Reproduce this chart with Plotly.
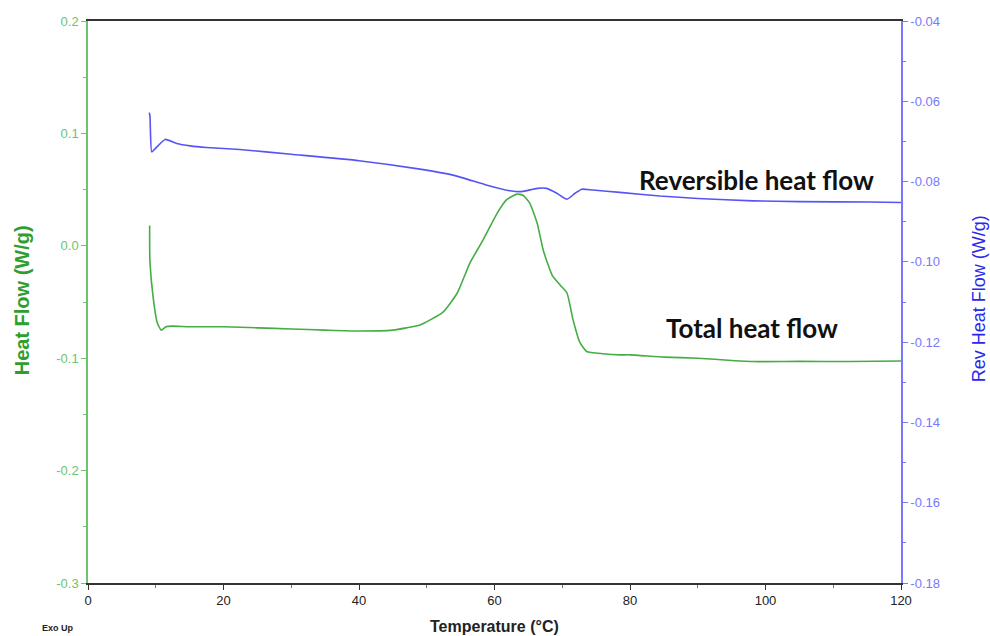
import plotly.graph_objects as go

# Total heat flow (left axis, W/g) vs temperature (°C)
total_T = [9.1, 9.1, 9.15, 9.6, 10.2, 10.8, 11.5, 12.5, 15, 20, 25, 30, 35, 40, 45, 47, 49,
           52.4, 54.5, 56.4, 58.3, 60.4, 61.8, 63.3, 64.2, 65.2, 66.3, 67.2, 68.5, 69.7,
           70.7, 71.6, 72.6, 73.6, 76.0, 78.5, 80, 85, 90, 95, 98.2, 105, 112.5, 120]
total_hf = [0.018, 0.0, -0.015, -0.045, -0.068, -0.075, -0.072, -0.0715, -0.072, -0.072,
            -0.073, -0.074, -0.075, -0.0758, -0.075, -0.073, -0.0705,
            -0.059, -0.042, -0.015, 0.005, 0.029, 0.041, 0.046, 0.045, 0.038, 0.020,
            -0.004, -0.026, -0.035, -0.042, -0.066, -0.086, -0.094, -0.096, -0.097,
            -0.097, -0.099, -0.100, -0.102, -0.103, -0.1028, -0.103, -0.1025]

# Reversible heat flow (right axis, W/g)
rev_T = [9.05, 9.15, 9.4, 9.8, 11.4, 13.1, 15.1, 17.5, 22.4, 30, 40, 49, 53.9, 58.9,
         62.3, 64.0, 66.3, 67.7, 69.2, 70.7, 71.9, 72.9, 74.5, 78.5, 84.4, 90, 98.2,
         105, 115.4, 120]
rev_hf = [-0.0628, -0.0638, -0.0726, -0.0720, -0.0695, -0.0705, -0.0711, -0.0715, -0.0720,
          -0.0732, -0.0748, -0.0769, -0.0784, -0.0809, -0.0823, -0.0825, -0.0817, -0.0817,
          -0.0829, -0.0844, -0.0829, -0.0819, -0.0821, -0.0827, -0.0836, -0.0842, -0.0848,
          -0.0850, -0.0851, -0.0852]

x_ticks = [0, 20, 40, 60, 80, 100, 120]
left_ticks = [-0.3, -0.2, -0.1, 0.0, 0.1, 0.2]
left_labels = ["-0.3", "-0.2", "-0.1", "0.0", "0.1", "0.2"]
right_ticks = [-0.18, -0.16, -0.14, -0.12, -0.10, -0.08, -0.06, -0.04]
right_labels = ["-0.18", "-0.16", "-0.14", "-0.12", "-0.10", "-0.08", "-0.06", "-0.04"]

GREEN = "#45AD45"
GREEN_AX = "#6CC46C"
BLUE = "#5555F5"
BLUE_AX = "#7777FF"
FONT = "Liberation Sans, Arial, sans-serif"
LABEL_FONT = "Lato, Open Sans, sans-serif"

fig = go.Figure()
fig.add_trace(go.Scatter(x=total_T, y=total_hf, mode="lines", yaxis="y",
                         line=dict(color=GREEN, width=1.6, shape="spline", smoothing=0.5),
                         showlegend=False))
fig.add_trace(go.Scatter(x=rev_T, y=rev_hf, mode="lines", yaxis="y2",
                         line=dict(color=BLUE, width=1.6, shape="spline", smoothing=0.5),
                         showlegend=False))

fig.update_layout(
    width=990, height=636,
    margin=dict(l=88, r=89, t=21, b=53),
    paper_bgcolor="white", plot_bgcolor="white",
    xaxis=dict(range=[0, 120], tickvals=x_ticks, ticks="outside", ticklen=5,
               showgrid=False, zeroline=False, showline=True, linecolor="#333333",
               linewidth=1.5, mirror=True, tickcolor="#333333",
               tickfont=dict(family=FONT, size=13, color="#222222"),
               minor=dict(dtick=10, ticks="outside", ticklen=3, tickcolor="#777777")),
    yaxis=dict(range=[-0.3, 0.2], tickvals=left_ticks, ticktext=left_labels,
               ticks="outside", ticklen=5, tickcolor=GREEN_AX,
               showgrid=False, zeroline=False, showline=True, linecolor=GREEN_AX,
               linewidth=1.5, tickfont=dict(family=FONT, size=13, color=GREEN_AX),
               minor=dict(dtick=0.05, ticks="outside", ticklen=3, tickcolor=GREEN_AX)),
    yaxis2=dict(range=[-0.18, -0.04], overlaying="y", side="right",
                tickvals=right_ticks, ticktext=right_labels,
                ticks="outside", ticklen=5, tickcolor=BLUE_AX,
                showgrid=False, zeroline=False, showline=True, linecolor=BLUE_AX,
                linewidth=1.5, tickfont=dict(family=FONT, size=13, color=BLUE_AX),
                minor=dict(dtick=0.01, ticks="outside", ticklen=3, tickcolor=BLUE_AX)),
    annotations=[
        dict(text="<b>Reversible heat flow</b>", x=98.6, y=-0.0796, xref="x", yref="y2",
             showarrow=False, font=dict(family=LABEL_FONT, size=26, color="#111111")),
        dict(text="<b>Total heat flow</b>", x=98.0, y=-0.073, xref="x", yref="y",
             showarrow=False, font=dict(family=LABEL_FONT, size=26, color="#111111")),
        dict(text="<b>Heat Flow (W/g)</b>", textangle=-90, x=0, y=0.503,
             xref="paper", yref="paper", xshift=-79, showarrow=False,
             font=dict(family=FONT, size=20, color="#2E9E2E")),
        dict(text="Rev Heat Flow (W/g)", textangle=-90, x=1, y=0.505,
             xref="paper", yref="paper", xshift=90, showarrow=False,
             font=dict(family=FONT, size=18, color="#2828EE")),
        dict(text="<b>Temperature (°C)</b>", x=0.5, y=0, xref="paper", yref="paper",
             yshift=-54, showarrow=False,
             font=dict(family=FONT, size=16, color="#222222")),
        dict(text="<b>Exo Up</b>", x=0, y=0, xref="paper", yref="paper",
             xshift=-48, yshift=-52, showarrow=False,
             font=dict(family=FONT, size=9, color="#222222")),
    ],
)

fig.write_html("out.html")
